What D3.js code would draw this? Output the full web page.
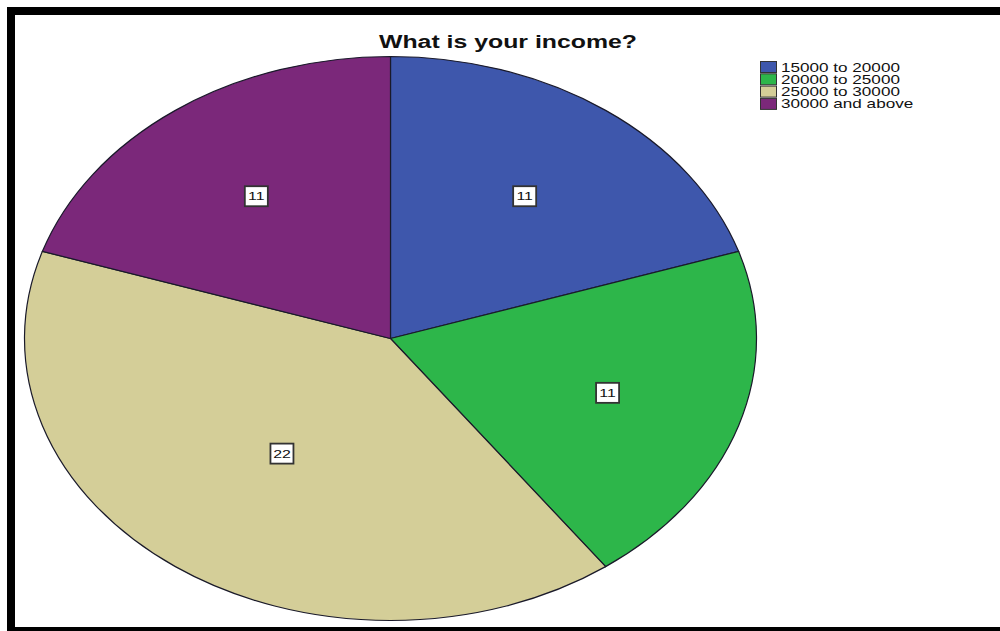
<!DOCTYPE html>
<html>
<head>
<meta charset="utf-8">
<script src="https://cdn.jsdelivr.net/npm/d3@7"></script>
<style>
  html, body { margin: 0; padding: 0; background: #fff; }
  svg { display: block; }
  text { font-family: "Liberation Sans", Arial, sans-serif; }
</style>
</head>
<body>
<svg id="chart" width="1000" height="631"></svg>
<script>
// Income groups and respondent counts
const categories = ["15000 to 20000", "20000 to 25000", "25000 to 30000", "30000 and above"];
const counts = [11, 11, 22, 11];
const colors = ["#3E57AC", "#2DB64A", "#D4CE98", "#7B287A"];
const title = "What is your income?";

const W = 1000, H = 631;
const svg = d3.select("#chart");

// Horizontal stretch applied to all text
const stretch = 1.38;

// Frame
svg.append("rect").attr("x", 7).attr("y", 7).attr("width", W).attr("height", 8).attr("fill", "#000");
svg.append("rect").attr("x", 7).attr("y", 7).attr("width", 8).attr("height", H).attr("fill", "#000");
svg.append("rect").attr("x", 7).attr("y", 627).attr("width", W).attr("height", 8).attr("fill", "#000");

// Elliptical pie: drawn on a circle of radius ry, then stretched horizontally
const cx = 390.5, cy = 338.5, rx = 366, ry = 282;
const sx = rx / ry;

const pie = d3.pie().sort(null).value(d => d.value);
const data = pie(categories.map((c, i) => ({ name: c, value: counts[i], color: colors[i] })));
const arc = d3.arc().innerRadius(0).outerRadius(ry);

const g = svg.append("g").attr("transform", `translate(${cx},${cy}) scale(${sx},1)`);
g.selectAll("path.slice")
  .data(data)
  .enter().append("path")
  .attr("class", "slice")
  .attr("d", arc)
  .attr("fill", d => d.data.color)
  .attr("stroke", "#1a1a2a")
  .attr("stroke-width", 1.2)
  .attr("vector-effect", "non-scaling-stroke");

// Value labels in boxes, placed at each sector's area centroid
const labels = svg.append("g");
data.forEach(d => {
  const half = (d.endAngle - d.startAngle) / 2;
  const mid = d.startAngle + half;
  const rc = (2 / 3) * ry * Math.sin(half) / half;
  const px = cx + Math.sin(mid) * rc * sx;
  const py = cy - Math.cos(mid) * rc;
  const lg = labels.append("g").attr("transform", `translate(${px},${py})`);
  lg.append("rect")
    .attr("x", -11.5).attr("y", -10).attr("width", 23).attr("height", 20)
    .attr("fill", "#fff").attr("stroke", "#333").attr("stroke-width", 1.8);
  lg.append("text")
    .attr("transform", `scale(${stretch},1)`)
    .attr("text-anchor", "middle")
    .attr("dy", "0.36em")
    .attr("font-size", 11.5)
    .attr("fill", "#111")
    .text(d.data.value);
});

// Title
svg.append("text")
  .attr("transform", `translate(508,48) scale(${stretch},1)`)
  .attr("text-anchor", "middle")
  .attr("font-size", 18)
  .attr("font-weight", "bold")
  .attr("fill", "#111")
  .text(title);

// Legend
const legend = svg.append("g").attr("transform", "translate(760,61)");
const rowH = 12.3;
categories.forEach((c, i) => {
  const row = legend.append("g").attr("transform", `translate(0,${i * rowH})`);
  row.append("rect")
    .attr("x", 0.5).attr("y", 0.5).attr("width", 16).attr("height", 11)
    .attr("fill", colors[i]).attr("stroke", "#333").attr("stroke-width", 1);
  row.append("text")
    .attr("transform", `translate(21,10.5) scale(${stretch},1)`)
    .attr("font-size", 12.4)
    .attr("fill", "#111")
    .text(c);
});
</script>
</body>
</html>
